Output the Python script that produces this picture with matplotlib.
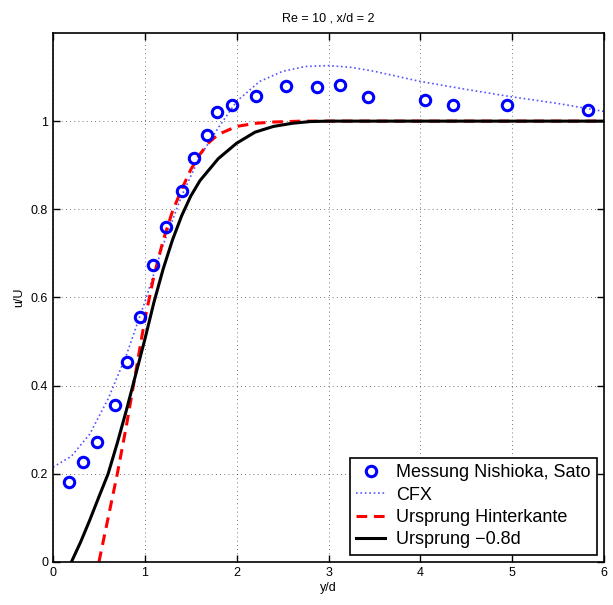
import matplotlib.pyplot as plt

plt.rcParams['font.family'] = ['Liberation Sans', 'DejaVu Sans']

# Messung (Nishioka, Sato)
mess_x = [0.17, 0.33, 0.48, 0.67, 0.81, 0.95, 1.09, 1.23, 1.40, 1.54, 1.68, 1.79,
          1.95, 2.21, 2.54, 2.88, 3.13, 3.43, 4.05, 4.36, 4.94, 5.83]
mess_u = [0.182, 0.227, 0.272, 0.355, 0.453, 0.556, 0.673, 0.759, 0.841, 0.916, 0.968, 1.020,
          1.036, 1.058, 1.080, 1.078, 1.081, 1.055, 1.047, 1.036, 1.036, 1.025]

# CFX
cfx_x = [0.0, 0.2, 0.4, 0.6, 0.8, 1.0, 1.2, 1.4, 1.6, 1.8, 2.0, 2.25, 2.5, 2.75,
         3.0, 3.25, 3.5, 4.0, 4.5, 5.0, 5.5, 6.0]
cfx_u = [0.215, 0.24, 0.29, 0.37, 0.47, 0.59, 0.72, 0.83, 0.92, 0.985, 1.045, 1.09, 1.113, 1.124,
         1.126, 1.122, 1.113, 1.09, 1.072, 1.055, 1.04, 1.022]

# Ursprung Hinterkante
hk_x = [0.5, 0.6, 0.7, 0.8, 0.9, 1.0, 1.1, 1.2, 1.3, 1.4, 1.5, 1.6, 1.7, 1.8,
        2.0, 2.2, 2.4, 2.7, 3.0, 6.0]
hk_u = [0.0, 0.1, 0.2, 0.31, 0.43, 0.55, 0.65, 0.73, 0.795, 0.845, 0.89, 0.925, 0.952, 0.97,
        0.988, 0.995, 0.998, 1.0, 1.0, 1.0]

# Ursprung -0.8d
u08_x = [0.2, 0.3, 0.4, 0.5, 0.6, 0.7, 0.8, 0.9, 1.0, 1.1, 1.2, 1.3, 1.4, 1.5, 1.6,
         1.7, 1.8, 2.0, 2.2, 2.4, 2.6, 2.8, 3.0, 6.0]
u08_u = [0.0, 0.045, 0.095, 0.148, 0.2, 0.27, 0.345, 0.425, 0.505, 0.59, 0.665, 0.73, 0.785,
         0.83, 0.865, 0.89, 0.915, 0.95, 0.975, 0.988, 0.995, 0.999, 1.0, 1.0]

fig = plt.figure(figsize=(6.13, 6.05), dpi=100)
ax = fig.add_axes([0.0865, 0.0711, 0.8988, 0.8744])

ax.plot(mess_x, mess_u, 'o', color='blue', mfc='none', mew=2.2, ms=7.5,
        label='Messung Nishioka, Sato', zorder=5)
ax.plot(cfx_x, cfx_u, ':', color='#5555ff', lw=1.2, label='CFX')
ax.plot(hk_x, hk_u, '--', color='red', lw=2.2, dashes=(3.5, 2.2), label='Ursprung Hinterkante')
ax.plot(u08_x, u08_u, '-', color='black', lw=2.2, label='Ursprung \u22120.8d')

ax.set_xlim(0, 6)
ax.set_ylim(0, 1.2)
ax.set_xticks(range(0, 7))
ax.set_yticks([0, 0.2, 0.4, 0.6, 0.8, 1.0])
ax.set_yticklabels(['0', '0.2', '0.4', '0.6', '0.8', '1'])
ax.grid(True, linestyle=(0, (1, 4)), color='black', lw=0.6, alpha=0.7)
ax.tick_params(direction='in', top=True, right=True, labelsize=9, length=5, width=1)
for s in ax.spines.values():
    s.set_linewidth(1.2)

ax.set_title('Re = 10 , x/d = 2', fontsize=9, pad=8)
ax.set_xlabel('y/d', fontsize=9, labelpad=2)
ax.set_ylabel('u/U', fontsize=9, labelpad=4)

leg = ax.legend(loc='lower right', fontsize=13, frameon=True, fancybox=False,
                edgecolor='black', framealpha=1, numpoints=1, handlelength=1.6,
                borderpad=0.35, labelspacing=0.3, handletextpad=0.6, borderaxespad=0.4)
leg.get_frame().set_linewidth(1.2)

fig.savefig('out.png', dpi=100, facecolor='white')
